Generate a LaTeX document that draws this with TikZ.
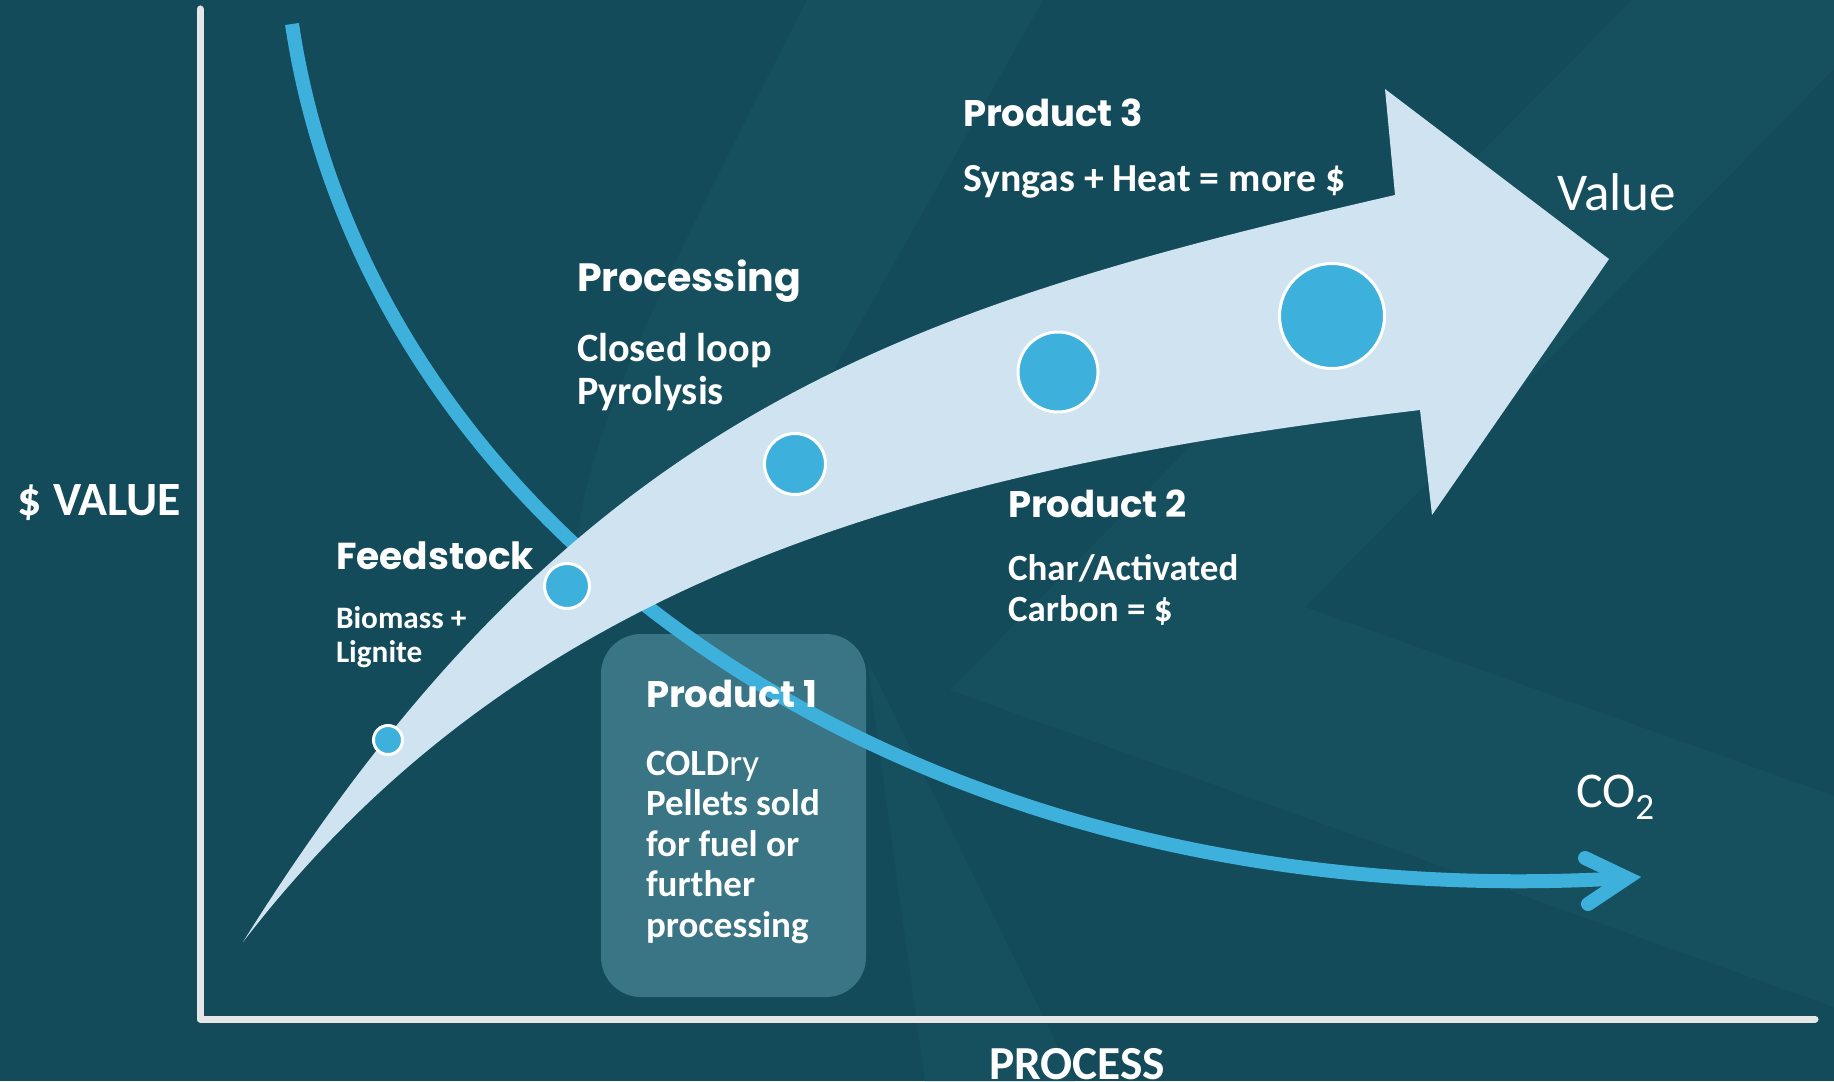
\documentclass[tikz,border=0pt]{standalone}
\usepackage{fontspec}
\setmainfont{Carlito}
\newfontfamily\headfont{Poppins}
\definecolor{c134b5a}{RGB}{19,75,90}
\definecolor{c16505e}{RGB}{22,80,95}
\definecolor{ccfe4f0}{RGB}{207,228,240}
\definecolor{c3db0dc}{RGB}{61,176,220}
\definecolor{c3a7586}{RGB}{58,117,134}
\definecolor{ce6e6e6}{RGB}{230,230,230}

\begin{document}
\begin{tikzpicture}[y=0.80pt, x=0.8pt, yscale=-1, inner sep=0pt, outer sep=0pt,
  head/.style={anchor=base west, text=white, font=\headfont\bfseries\fontsize{29.6pt}{34pt}\selectfont},
  body/.style={anchor=base west, align=left, text=white, font=\bfseries\fontsize{29.6pt}{32.4pt}\selectfont},
  dot/.style={draw=white, fill=c3db0dc, line width=2.4pt}]
  \path[fill=c134b5a] (0,0) rectangle (1834,1081);
  \path[fill=c16505e] (807,0) .. controls (680,250) and (590,420) .. (577,540) --
    (760,500) -- (1043,0) -- cycle;
  \path[fill=c16505e] (1632,0) -- (1834,0) -- (1834,69) -- (1305,607) --
    (1834,796) -- (1834,1007) -- (950,690) -- cycle;
  \path[fill=c16505e] (867,660) -- (1075,1081) -- (925,1081) -- cycle;
  \path[draw=ce6e6e6, line width=5.6pt, line cap=round, line join=round]
    (200,9) -- (200,1019) -- (1815,1019);
  \path[fill=c3a7586, rounded corners=32pt] (601,634) rectangle (866,997);
  \path[draw=c3db0dc, line width=11.2pt] (292,24) .. controls (368,533) and
    (909,921) .. (1627,878);
  \path[draw=c3db0dc, line width=11.2pt, line cap=round, miter limit=10]
    (1585,858) -- (1627,878) -- (1588,904);
  \path[fill=ccfe4f0] (243,942) .. controls (573,414) and (895,310) ..
    (1395,195) -- (1385,89) -- (1609,259) -- (1432,515) -- (1420,410) ..
    controls (920,470) and (523,578) .. (243,942) -- cycle;
  \path[dot] (388,740) circle (14.5);
  \path[dot] (567,586) circle (22.5);
  \path[dot] (795,464) circle (30.5);
  \path[dot] (1058,372) circle (40);
  \path[dot] (1332,316) circle (52.5);
  \path (18,515) node[body, font=\bfseries\fontsize{38.2pt}{40pt}\selectfont]
    (textvalueaxis) {\$ VALUE};
  \path (989,1079) node[body, font=\bfseries\fontsize{37.9pt}{40pt}\selectfont]
    (textprocess) {PROCESS};
  \path (1557,210) node[body, font=\fontsize{42.5pt}{44pt}\selectfont]
    (textvalue) {Value};
  \path (1576,807) node[body, font=\fontsize{40pt}{40pt}\selectfont]
    (textco) {CO\raisebox{-9.6pt}{\fontsize{29.7pt}{29.7pt}\selectfont 2}};
  \path (336,569) node[head, font=\headfont\bfseries\fontsize{30pt}{34pt}\selectfont]
    (textfeed) {Feedstock};
  \path (336,662) node[body, font=\bfseries\fontsize{25pt}{27.2pt}\selectfont]
    (textbiomass) {Biomass +\\Lignite};
  \path (577,291) node[head, font=\headfont\bfseries\fontsize{31.6pt}{34pt}\selectfont]
    (textproc) {Processing};
  \path (577,404) node[body, font=\bfseries\fontsize{32.2pt}{34.4pt}\selectfont]
    (textloop) {Closed loop\\Pyrolysis};
  \path (963,127) node[head] (textprodc) {Product 3};
  \path (963,191) node[body, font=\bfseries\fontsize{31.8pt}{34pt}\selectfont]
    (textsyngas) {Syngas + Heat = more \$};
  \path (1008,517) node[head] (textprodb) {Product 2};
  \path (1008,621) node[body, font=\bfseries\fontsize{29.6pt}{32.8pt}\selectfont]
    (textchar) {Char/Activated\\Carbon = \$};
  \path (646,707) node[head] (textproda) {Product 1};
  \path (646,937) node[body] (textcoldry) {COLD\mdseries ry\\Pellets sold\\for fuel or\\further\\processing};
\end{tikzpicture}
\end{document}
